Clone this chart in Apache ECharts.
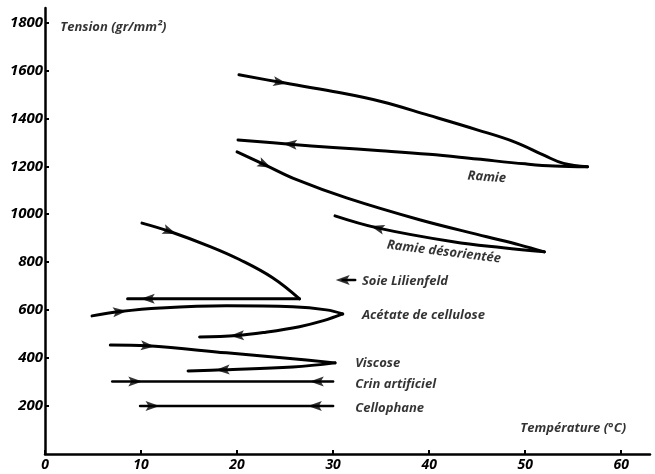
<!DOCTYPE html>
<html><head><meta charset="utf-8">
<script src="https://cdn.jsdelivr.net/npm/echarts@6/dist/echarts.min.js"></script>
<style>html,body{margin:0;padding:0;background:#fff}#c{width:655px;height:474px}</style>
</head><body><div id="c"></div>
<script>
// Tick values
const xTicks = [0, 10, 20, 30, 40, 50, 60];
const yTicks = [200, 400, 600, 800, 1000, 1200, 1400, 1600, 1800];

// Ramie
const ramieHeat = [[20.2,1582],[24.5,1550],[30,1512],[35,1470],[40,1412],[45,1352],[49,1300],[52,1245],[54,1212],[56.5,1198]];
const ramieCool = [[56.5,1198],[53,1201],[50,1210],[45,1230],[40,1250],[35,1265],[30,1278],[25.5,1292],[20.1,1310]];
// Ramie désorientée
const ramieDesHeat = [[20.0,1260],[22.9,1206],[26.2,1144],[31.4,1068],[39.0,977],[46.0,906],[49.4,872],[52.0,843]];
const ramieDesCool = [[52.0,843],[47.7,860],[42.5,885],[34.6,943],[30.2,993]];
// Soie Lilienfeld
const soieHeat = [[10.1,963],[13.0,928],[17.2,865],[20.3,810],[23.7,735],[26.5,647]];
const soieCool = [[26.5,647],[8.6,647]];
const soieMark = [[32.3,726],[31.0,726]];
// Acétate de cellulose
const acetateHeat = [[4.9,576],[7.8,594],[12.0,609],[18.9,618],[25.8,614],[29.3,601],[31.0,584]];
const acetateCool = [[31.0,584],[29.0,556],[26.5,531],[23.0,508],[20.0,494],[16.1,488]];
// Viscose
const viscoseHeat = [[6.8,455],[10.7,451],[18.9,422],[25.8,397],[30.2,380]];
const viscoseCool = [[30.2,380],[25.8,363],[18.5,351],[14.9,346]];
// Crin artificiel
const crin = [[7.0,302],[30.0,302]];
// Cellophane
const cellophane = [[9.9,200],[30.0,200]];

// Arrowheads: [x, y, toward x, toward y]
const arrows = [
  [24.5,1550,30,1512],[25.5,1292,20.1,1310],
  [22.9,1206,26.2,1144],[34.6,943,30.2,993],
  [13.0,928,17.2,865],[10.7,647,8.6,647],[31.0,726,29.0,726],
  [7.8,594,12.0,609],[20.0,494,16.1,488],
  [10.7,451,18.9,422],[18.5,351,14.9,346],
  [9.4,302,12,302],[28.3,302,26,302],
  [11.2,200,14,200],[28.1,200,26,200]
];

// Text annotations: [text, x, y, rotation]
const notes = [
  ['Tension (gr/mm²)',1.6,1778,0],
  ['Ramie',44.0,1160,-4],
  ['Ramie désorientée',35.6,872,-7],
  ['Soie Lilienfeld',33.0,722,0],
  ['Acétate de cellulose',33.0,580,0],
  ['Viscose',32.3,380,0],
  ['Crin artificiel',32.3,292,0],
  ['Cellophane',32.3,192,0],
  ['Température (°C)',49.5,108,0]
];

const FONT = 'Open Sans';
const INK = '#000';
function curve(data, w) {
  return {type:'line', data:data, smooth:0.4, symbol:'none', silent:true,
    lineStyle:{color:INK, width:w, cap:'round', join:'round'}, z:2};
}
const chart = echarts.init(document.getElementById('c'), null, {renderer:'canvas'});
const baseOption = {
  animation:false,
  backgroundColor:'#fff',
  grid:{left:45, right:5, top:8, bottom:20, containLabel:false},
  xAxis:{type:'value', min:0, max:63,
    axisLine:{show:true, lineStyle:{color:INK, width:2.5}},
    axisTick:{show:true, inside:true, length:4, customValues:xTicks, lineStyle:{color:INK, width:2}},
    axisLabel:{show:true, customValues:xTicks, margin:4, color:INK, fontFamily:FONT, fontStyle:'italic', fontWeight:'bold', fontSize:14,
      formatter: v => String(v)},
    splitLine:{show:false}},
  yAxis:{type:'value', min:0, max:1860,
    axisLine:{show:true, lineStyle:{color:INK, width:2.5}},
    axisTick:{show:true, inside:true, length:4, customValues:yTicks, lineStyle:{color:INK, width:2}},
    axisLabel:{show:true, customValues:yTicks, margin:2, color:INK, fontFamily:FONT, fontStyle:'italic', fontWeight:'bold', fontSize:15,
      formatter: v => String(v)},
    splitLine:{show:false}},
  series:[
    curve(ramieHeat,3), curve(ramieCool,3),
    curve(ramieDesHeat,3), curve(ramieDesCool,3),
    curve(soieHeat,3), curve(soieCool,3), curve(soieMark,2.5),
    curve(acetateHeat,3), curve(acetateCool,3),
    curve(viscoseHeat,3), curve(viscoseCool,3),
    curve(crin,2.5), curve(cellophane,2.5),
    {type:'scatter', symbolSize:0, silent:true, z:5,
      data: notes.map(n => ({value:[n[1], n[2]],
        label:{show:true, formatter:n[0], position:'right', distance:0, rotate:n[3],
          color:INK, fontFamily:FONT, fontStyle:'italic', fontWeight:'bold', fontSize:13, verticalAlign:'middle', align:'left'}}))}
  ]
};
chart.setOption(baseOption);
const arrowData = arrows.map(a => {
  const p1 = chart.convertToPixel({gridIndex:0}, [a[0], a[1]]);
  const p2 = chart.convertToPixel({gridIndex:0}, [a[2], a[3]]);
  const ang = Math.atan2(-(p2[1]-p1[1]), p2[0]-p1[0]) * 180 / Math.PI;
  return {value:[a[0], a[1]], symbolRotate: ang};
});
chart.setOption({series: baseOption.series.concat([{
  type:'scatter', silent:true, z:4,
  symbol:'path://M0,0L14,5L0,10L3,5Z', symbolSize:[14,10],
  itemStyle:{color:INK}, data:arrowData
}])});
</script>
</body></html>
